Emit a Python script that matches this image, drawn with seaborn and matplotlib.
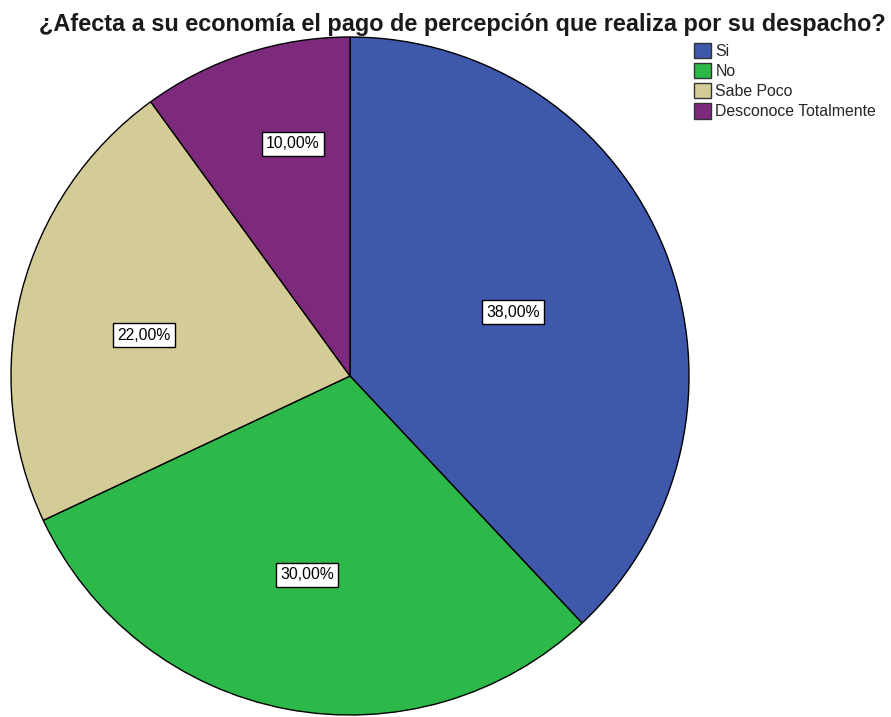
import matplotlib
matplotlib.use("Agg")
import numpy as np
import matplotlib.pyplot as plt
import seaborn as sns
from matplotlib.patches import Patch

sns.set_theme(style="white")
plt.rcParams['font.family'] = ['Liberation Sans', 'DejaVu Sans']

categories = ["Si", "No", "Sabe Poco", "Desconoce Totalmente"]
values = [38.0, 30.0, 22.0, 10.0]
colors = ["#3E58AB", "#2DB84A", "#D4CC96", "#7E2A7C"]
title = "¿Afecta a su economía el pago de percepción que realiza por su despacho?"

# label placement style (radial fraction, angular offset in degrees)
label_dist = [0.516, 0.60, 0.62, 0.705]
label_dang = [-0.2, -1.4, 3.2, -4.2]

W, H = 891, 717
fig = plt.figure(figsize=(W / 100, H / 100), dpi=100)
ax = fig.add_axes([0, 0, 1, 1])

cx, cy, R = 350, H - 376, 339
wedges, _ = ax.pie(
    values, colors=colors, startangle=90, counterclock=False,
    center=(cx, cy), radius=R, frame=True,
    wedgeprops=dict(edgecolor='black', linewidth=1.0),
)
ax.set_xlim(0, W)
ax.set_ylim(0, H)
ax.set_aspect('equal')
ax.axis('off')

for w, v, d, da in zip(wedges, values, label_dist, label_dang):
    ang = np.deg2rad((w.theta1 + w.theta2) / 2 + da)
    ax.text(cx + d * R * np.cos(ang), cy + d * R * np.sin(ang),
            f"{v:.2f}%".replace('.', ','), ha='center', va='center',
            fontsize=11.3, color='black',
            bbox=dict(boxstyle='square,pad=0.28', fc='white', ec='black', lw=1.0))

fig.text(462 / W, 1 - 31 / H, title, ha='center', va='baseline', fontsize=16.9,
         fontweight='bold', color='#1a1a1a')

handles = [Patch(facecolor=c, edgecolor='#333333', linewidth=1.0, label=l)
           for c, l in zip(colors, categories)]
fig.legend(handles=handles, loc='upper left', bbox_to_anchor=(694 / W, 1 - 43 / H),
           frameon=False, fontsize=11.4, handlelength=1.05, handleheight=1.1,
           handletextpad=0.3, labelspacing=0.26, borderpad=0, borderaxespad=0)

fig.savefig("out.png", dpi=100, facecolor='white')
